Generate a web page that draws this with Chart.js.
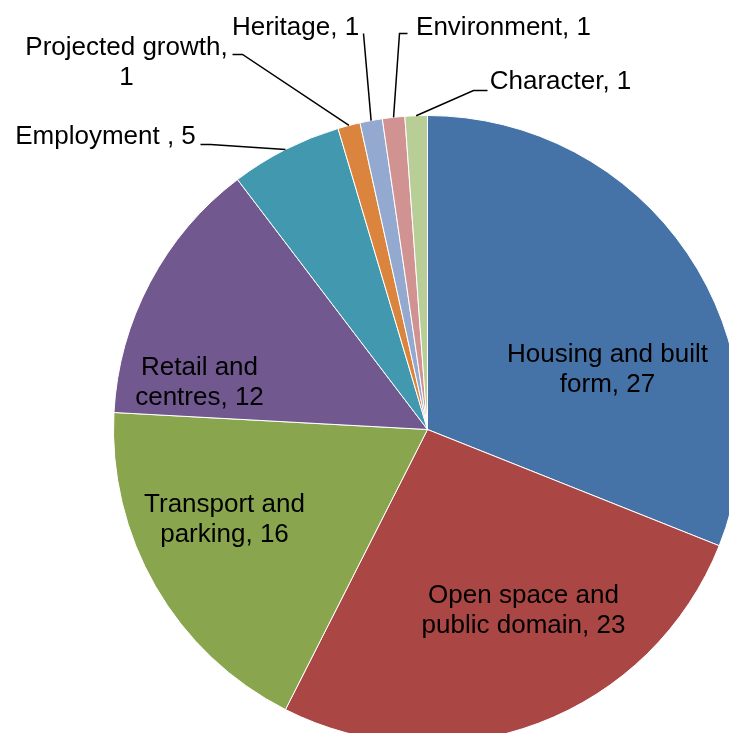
<!DOCTYPE html>
<html>
<head>
<meta charset="utf-8">
<script src="https://cdn.jsdelivr.net/npm/chart.js@4.4.1/dist/chart.umd.min.js"></script>
<style>
  html, body { margin: 0; padding: 0; background: #fff; overflow: hidden; width: 729px; height: 733px; }
  #wrap { position: absolute; left: 0; top: 0; width: 900px; height: 900px; }
</style>
</head>
<body>
<div id="wrap"><canvas id="pie" width="900" height="900"></canvas></div>
<script>
// data
const categories = ['Housing and built form', 'Open space and public domain', 'Transport and parking',
  'Retail and centres', 'Employment ', 'Projected growth', 'Heritage', 'Environment', 'Character']
const values = [27, 23, 16, 12, 5, 1, 1, 1, 1]
const colours = ['#4572A7', '#AA4643', '#89A54E', '#71588F', '#4198AF', '#DB843D', '#93A9CF', '#D19392', '#B9CD96']

// label text lines (as shown in the picture)
const labelLines = [
  ['Housing and built', 'form, 27'],
  ['Open space and', 'public domain, 23'],
  ['Transport and', 'parking, 16'],
  ['Retail and', 'centres, 12'],
  ['Employment , 5'],
  ['Projected growth,', '1'],
  ['Heritage, 1'],
  ['Environment, 1'],
  ['Character, 1']
]

// where each label sits, offset from pie centre; outside labels get a leader line
// line: [start x, start y, elbow x, elbow y] offsets from centre
const labelLayout = [
  { x: 180, y: -60 },
  { x: 96, y: 181 },
  { x: -203, y: 90 },
  { x: -228, y: -47 },
  { x: -322, y: -293, line: [-227, -285, -217, -285] },
  { x: -301, y: -367, line: [-195, -375, -185, -375] },
  { x: -132, y: -402, line: [-64, -396, -64, -396] },
  { x: 76, y: -402, line: [-20, -396, -28, -396] },
  { x: 133, y: -348, line: [60, -339, 46, -339] }
]

const pieLabels = {
  id: 'pieLabels',
  afterDraw(chart) {
    const ctx = chart.ctx
    const arcs = chart.getDatasetMeta(0).data
    ctx.save()
    ctx.font = '26px "Liberation Sans", Arial, sans-serif'
    ctx.fillStyle = '#000'
    ctx.strokeStyle = '#000'
    ctx.lineWidth = 1.5
    ctx.textAlign = 'center'
    ctx.textBaseline = 'middle'
    arcs.forEach((arc, i) => {
      const cx = arc.x
      const cy = arc.y
      const lay = labelLayout[i]
      if (lay.line) {
        // leader line ends on the middle of the slice's outer edge
        const mid = (arc.startAngle + arc.endAngle) / 2
        const ax = cx + arc.outerRadius * Math.cos(mid)
        const ay = cy + arc.outerRadius * Math.sin(mid)
        ctx.beginPath()
        ctx.moveTo(cx + lay.line[0], cy + lay.line[1])
        ctx.lineTo(cx + lay.line[2], cy + lay.line[3])
        ctx.lineTo(ax, ay)
        ctx.stroke()
      }
      const lines = labelLines[i]
      const lh = 30
      const top = cy + lay.y - (lines.length - 1) * lh / 2
      lines.forEach((t, k) => {
        ctx.fillText(t, cx + lay.x, top + k * lh)
      })
    })
    ctx.restore()
  }
}

const myChart = new Chart(document.getElementById('pie'), {
  type: 'pie',
  data: {
    labels: categories,
    datasets: [{
      data: values,
      backgroundColor: colours,
      borderColor: '#ffffff',
      borderWidth: 1,
      hoverOffset: 0
    }]
  },
  options: {
    responsive: false,
    animation: false,
    events: [],
    layout: { padding: { left: 113, top: 115, right: 158, bottom: 156 } },
    plugins: {
      legend: { display: false },
      tooltip: { enabled: false }
    }
  },
  plugins: [pieLabels]
})
</script>
</body>
</html>
